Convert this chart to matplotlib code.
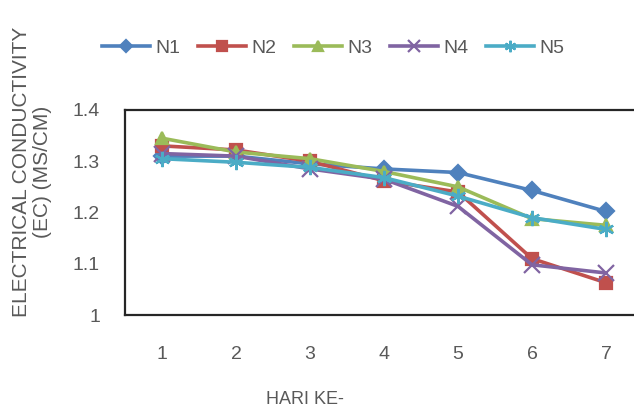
import matplotlib
matplotlib.use("Agg")
import matplotlib.pyplot as plt
from matplotlib import font_manager

names = {f.name for f in font_manager.fontManager.ttflist}
fam = "Liberation Sans Narrow" if "Liberation Sans Narrow" in names else "Liberation Sans"
plt.rcParams['font.family'] = [fam, 'DejaVu Sans']

days = [1, 2, 3, 4, 5, 6, 7]
series_names = ["N1", "N2", "N3", "N4", "N5"]
N1 = [1.31, 1.31, 1.295, 1.285, 1.278, 1.243, 1.202]
N2 = [1.33, 1.322, 1.30, 1.262, 1.24, 1.11, 1.063]
N3 = [1.345, 1.318, 1.305, 1.28, 1.25, 1.188, 1.175]
N4 = [1.315, 1.31, 1.285, 1.265, 1.212, 1.098, 1.082]
N5 = [1.305, 1.298, 1.288, 1.268, 1.232, 1.19, 1.167]
yticks = [1.0, 1.1, 1.2, 1.3, 1.4]
ytick_labels = ["1", "1.1", "1.2", "1.3", "1.4"]

colors = ["#4F81BD", "#C0504D", "#9BBB59", "#8064A2", "#4BACC6"]
markers = ["D", "s", "^", "x", (6, 2, 0)]
msizes = [8, 9, 9, 11, 11]

fig = plt.figure(figsize=(6.34, 4.12), dpi=100)
ax = fig.add_axes([125/634, 1-315/412, 518/634, 205/412])

for vals, name, c, m, ms in zip([N1, N2, N3, N4, N5], series_names, colors, markers, msizes):
    ax.plot(days, vals, color=c, marker=m, markersize=ms, linewidth=2.6,
            markeredgewidth=1.6, label=name)

ax.set_xlim(0.5, 7.5)
ax.set_ylim(1.0, 1.4)
ax.set_yticks(yticks)
ax.set_yticklabels(ytick_labels)
ax.set_xticks(days)
ax.tick_params(axis='both', length=0, labelsize=14, labelcolor="#595959")
ax.tick_params(axis='x', pad=22)
ax.tick_params(axis='y', pad=18)
for s in ax.spines.values():
    s.set_color("#262626")
    s.set_linewidth(1.6)

fig.text(305/634, 1-400/412, "HARI KE-", ha="center", va="center", fontsize=13, color="#595959")
fig.text(32/634, 1-172/412, "ELECTRICAL CONDUCTIVITY\n(EC) (MS/CM)", rotation=90,
         ha="center", va="center", fontsize=15, color="#595959", linespacing=1.1)

handles, labels = ax.get_legend_handles_labels()
fig.legend(handles, labels, loc="center", bbox_to_anchor=(333/634, 1-48/412), ncol=5,
           frameon=False, fontsize=14, handlelength=2.5, columnspacing=0.9,
           handletextpad=0.25, labelcolor="#595959", markerscale=0.75)

fig.savefig("out.png", dpi=100)
